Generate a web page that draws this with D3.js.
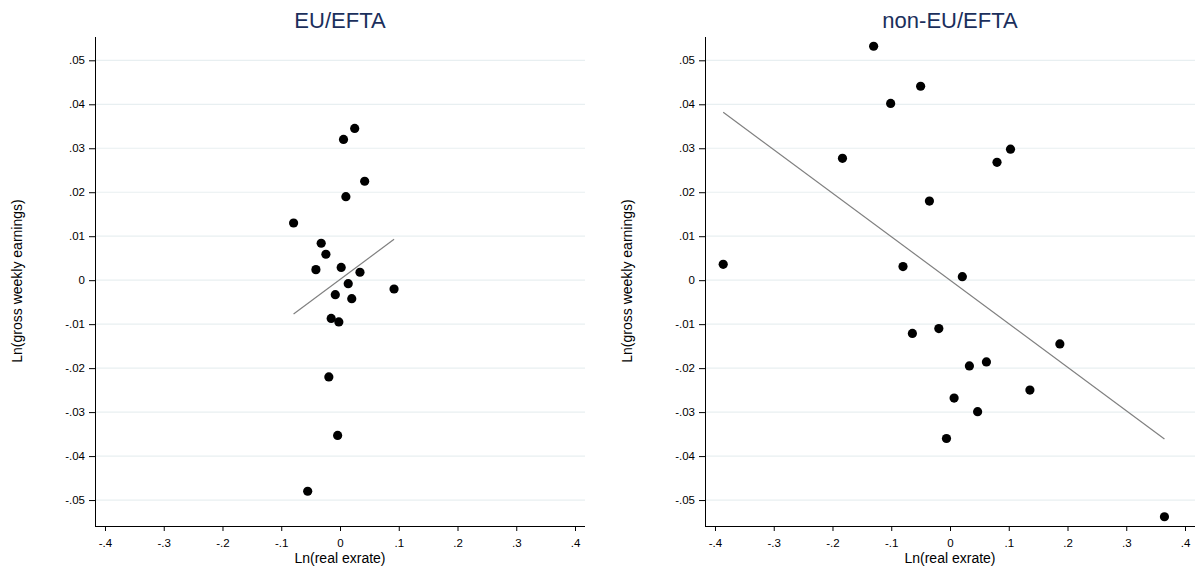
<!DOCTYPE html>
<html>
<head>
<meta charset="utf-8">
<script src="https://cdn.jsdelivr.net/npm/d3@7"></script>
<style>
  html, body { margin: 0; padding: 0; background: #ffffff; }
  svg { display: block; font-family: "Liberation Sans", Arial, sans-serif; }
</style>
</head>
<body>
<svg id="chart" width="1195" height="573"></svg>
<script>
// Axis ticks shared by both panels
const xTicks = [-0.4, -0.3, -0.2, -0.1, 0, 0.1, 0.2, 0.3, 0.4];
const yTicks = [-0.05, -0.04, -0.03, -0.02, -0.01, 0, 0.01, 0.02, 0.03, 0.04, 0.05];

// EU/EFTA: Ln(real exrate) vs Ln(gross weekly earnings)
const euX = [0.025, 0.006, 0.042, 0.010, -0.079, -0.032, -0.024, -0.041, 0.002, 0.034,
             0.014, 0.092, -0.008, 0.020, -0.015, -0.002, -0.019, -0.004, -0.055];
const euY = [0.0345, 0.0320, 0.0225, 0.0190, 0.0130, 0.0084, 0.0059, 0.0024, 0.0029, 0.0018,
             -0.0008, -0.0020, -0.0033, -0.0042, -0.0087, -0.0095, -0.0220, -0.0353, -0.0480];
const euFitX = [-0.079, 0.092];
const euFitY = [-0.0077, 0.0093];

// non-EU/EFTA
const nonX = [-0.130, -0.050, -0.101, -0.183, 0.103, 0.080, -0.035, -0.386, -0.080, 0.021,
              -0.064, -0.019, 0.187, 0.033, 0.062, 0.136, 0.007, 0.047, -0.006, 0.365];
const nonY = [0.0532, 0.0441, 0.0402, 0.0277, 0.0298, 0.0268, 0.0180, 0.0036, 0.0031, 0.0008,
              -0.0121, -0.0110, -0.0145, -0.0195, -0.0186, -0.0250, -0.0268, -0.0299, -0.0360, -0.0538];
const nonFitX = [-0.386, 0.365];
const nonFitY = [0.0382, -0.0361];

const panels = [
  { title: "EU/EFTA", xs: euX, ys: euY, fx: euFitX, fy: euFitY, left: 95 },
  { title: "non-EU/EFTA", xs: nonX, ys: nonY, fx: nonFitX, fy: nonFitY, left: 705 }
];

const plotW = 490, plotTop = 37, plotBottom = 526;
const fmt = v => {
  if (Math.abs(v) < 1e-9) return "0";
  const s = String(+v.toFixed(3));
  return s.replace(/^(-?)0\./, "$1.");
};

const svg = d3.select("#chart");

panels.forEach(p => {
  const x = d3.scaleLinear().domain([-0.417, 0.417]).range([p.left, p.left + plotW]);
  const y = d3.scaleLinear().domain([-0.0559, 0.0553]).range([plotBottom, plotTop]);
  const g = svg.append("g");

  // horizontal gridlines
  g.selectAll("line.grid").data(yTicks).join("line")
    .attr("class", "grid")
    .attr("x1", p.left + 1).attr("x2", p.left + plotW)
    .attr("y1", d => y(d)).attr("y2", d => y(d))
    .attr("stroke", "#e8eff1").attr("stroke-width", 1.2);

  // y axis
  const ya = g.append("g").attr("transform", `translate(${p.left},0)`)
    .call(d3.axisLeft(y).tickValues(yTicks).tickFormat(fmt).tickSize(6).tickPadding(4));
  ya.select(".domain").attr("d", `M0.5,${plotTop}V${plotBottom}`).attr("stroke", "#000");
  ya.selectAll(".tick line").attr("stroke", "#000");
  ya.selectAll(".tick text").attr("font-size", 11.5).attr("fill", "#000")
    .attr("font-family", "Liberation Sans, Arial, sans-serif");

  // x axis
  const xa = g.append("g").attr("transform", `translate(0,${plotBottom})`)
    .call(d3.axisBottom(x).tickValues(xTicks).tickFormat(fmt).tickSize(5).tickPadding(8));
  xa.select(".domain").attr("d", `M${p.left},0.5H${p.left + plotW}`).attr("stroke", "#000");
  xa.selectAll(".tick line").attr("stroke", "#000");
  xa.selectAll(".tick text").attr("font-size", 11.5).attr("fill", "#000")
    .attr("font-family", "Liberation Sans, Arial, sans-serif");

  // fitted line
  g.append("line")
    .attr("x1", x(p.fx[0])).attr("y1", y(p.fy[0]))
    .attr("x2", x(p.fx[1])).attr("y2", y(p.fy[1]))
    .attr("stroke", "#808080").attr("stroke-width", 1.2);

  // scatter points
  g.selectAll("circle").data(p.xs.map((v, i) => [v, p.ys[i]])).join("circle")
    .attr("cx", d => x(d[0])).attr("cy", d => y(d[1])).attr("r", 4.6)
    .attr("fill", "#000");

  // titles
  const cx = p.left + plotW / 2;
  g.append("text").attr("x", cx).attr("y", 28).attr("text-anchor", "middle")
    .attr("font-size", 22).attr("fill", "#1b2f5c").text(p.title);
  g.append("text").attr("x", cx).attr("y", 563).attr("text-anchor", "middle")
    .attr("font-size", 14).attr("fill", "#000").text("Ln(real exrate)");
  g.append("text")
    .attr("transform", `translate(${p.left - 73},281) rotate(-90)`)
    .attr("text-anchor", "middle").attr("font-size", 14).attr("fill", "#000")
    .text("Ln(gross weekly earnings)");
});
</script>
</body>
</html>
